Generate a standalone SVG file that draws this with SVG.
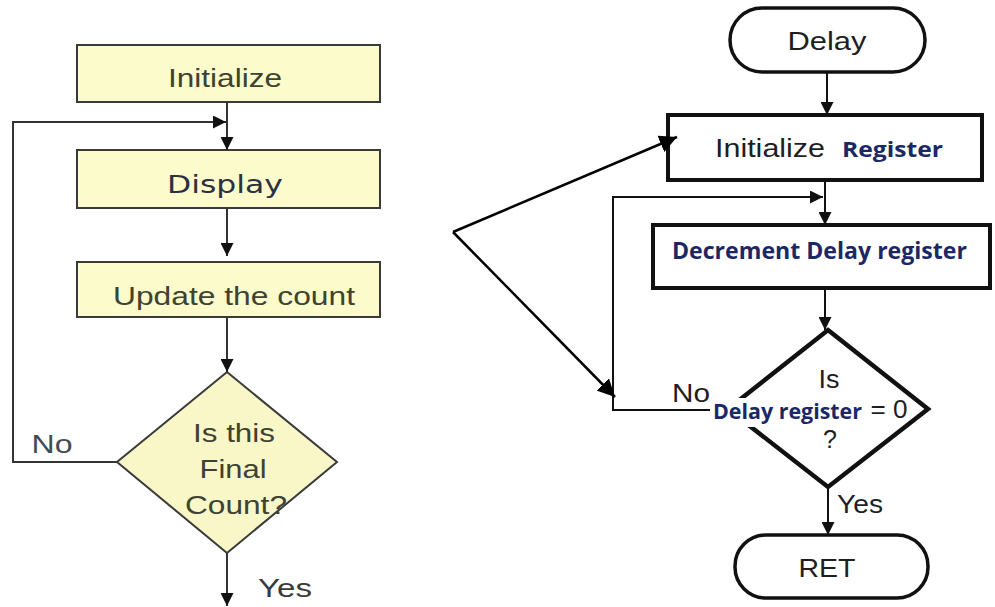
<svg xmlns="http://www.w3.org/2000/svg" width="995" height="607" viewBox="0 0 995 607">
  <style>
    .ybox { fill: #fbfbcb; stroke: #3a3a3a; stroke-width: 2; }
    .ytxt { font-family: "Liberation Sans", Arial, sans-serif; font-size: 25px; fill: #3d4232; text-anchor: middle; }
    .wbox { fill: #ffffff; stroke: #111111; stroke-width: 4; }
    .btxt { font-family: "Liberation Sans", Arial, sans-serif; font-size: 25px; fill: #1e1e1e; text-anchor: middle; }
    .ntxt { font-family: "Open Sans", "Noto Sans", sans-serif; font-weight: bold; fill: #1c2866; }
    .lc { fill: none; stroke: #333333; stroke-width: 2; }
    .rc { fill: none; stroke: #111111; stroke-width: 2; }
    .pc { fill: none; stroke: #000000; stroke-width: 2.5; }
  </style>
  <defs>
    <marker id="ah" viewBox="0 0 10 10" refX="10" refY="5" markerWidth="6.5" markerHeight="6.5" markerUnits="strokeWidth" orient="auto">
      <path d="M0,0 L10,5 L0,10 Z" fill="#111111"/>
    </marker>
    <marker id="ahp" viewBox="0 0 10 10" refX="10" refY="5" markerWidth="7" markerHeight="7" markerUnits="strokeWidth" orient="auto">
      <path d="M0,0 L10,5 L0,10 Z" fill="#000000"/>
    </marker>
  </defs>

  <rect x="0" y="0" width="995" height="607" fill="#ffffff"/>

  <!-- Left flowchart: counter -->
  <g id="l-init">
    <rect class="ybox" x="77" y="45" width="303" height="57"/>
    <text class="ytxt" x="225" y="87" textLength="114" lengthAdjust="spacingAndGlyphs">Initialize</text>
  </g>
  <g id="l-display">
    <rect class="ybox" x="77" y="150" width="303" height="58"/>
    <text class="ytxt" x="225" y="193" style="font-family:'DejaVu Sans',Verdana,sans-serif;fill:#2c3040" textLength="116" lengthAdjust="spacingAndGlyphs">Display</text>
  </g>
  <g id="l-update">
    <rect class="ybox" x="77" y="262" width="303" height="55"/>
    <text class="ytxt" x="234" y="305" textLength="242" lengthAdjust="spacingAndGlyphs">Update the count</text>
  </g>
  <g id="l-final">
    <path class="ybox" d="M227,372 L337,462 L227,553 L117,462 Z" style="fill:#f9f6c8"/>
    <text class="ytxt" x="234" y="442" textLength="82" lengthAdjust="spacingAndGlyphs">Is this</text>
    <text class="ytxt" x="233" y="478" textLength="67" lengthAdjust="spacingAndGlyphs">Final</text>
    <text class="ytxt" x="236" y="514" textLength="102" lengthAdjust="spacingAndGlyphs">Count?</text>
  </g>

  <g id="l-connectors">
    <path class="lc" d="M227,102 V150" marker-end="url(#ah)"/>
    <path class="lc" d="M227,208 V256" marker-end="url(#ah)"/>
    <path class="lc" d="M227,317 V372" marker-end="url(#ah)"/>
    <path class="lc" d="M117,462 H13 V122 H226" marker-end="url(#ah)"/>
    <path class="lc" d="M227,553 V606" marker-end="url(#ah)"/>
    <text class="ytxt" x="52" y="453" textLength="41" lengthAdjust="spacingAndGlyphs" style="fill:#444a55">No</text>
    <text class="ytxt" x="285" y="597" textLength="54" lengthAdjust="spacingAndGlyphs" style="fill:#3a3a3a">Yes</text>
  </g>

  <!-- Right flowchart: delay routine -->
  <g id="r-delay">
    <rect class="wbox" x="730" y="8" width="195" height="64" rx="32" ry="32" style="stroke-width:3.5"/>
    <text class="btxt" x="827" y="50" font-size="26" textLength="79" lengthAdjust="spacingAndGlyphs">Delay</text>
  </g>
  <g id="r-init">
    <rect class="wbox" x="668" y="115" width="314" height="65"/>
    <text class="btxt" x="770" y="157" textLength="110" lengthAdjust="spacingAndGlyphs">Initialize</text>
    <text class="ntxt" x="842" y="157" font-size="22" textLength="101" lengthAdjust="spacingAndGlyphs">Register</text>
  </g>
  <g id="r-dec">
    <rect class="wbox" x="653" y="225" width="337" height="63"/>
    <text class="ntxt" x="672" y="259" font-size="23" textLength="295" lengthAdjust="spacingAndGlyphs">Decrement Delay register</text>
  </g>
  <g id="r-test">
    <path class="wbox" d="M828,330 L928,409 L828,487 L728,409 Z" style="stroke-width:4.5"/>
    <rect x="708" y="398" width="158" height="29" fill="#ffffff"/>
    <text class="btxt" x="829" y="388" font-size="22" textLength="21" lengthAdjust="spacingAndGlyphs">Is</text>
    <text class="ntxt" x="713" y="419" font-size="21" textLength="149" lengthAdjust="spacingAndGlyphs">Delay register</text>
    <text class="btxt" x="889" y="418" font-size="25" textLength="37" lengthAdjust="spacingAndGlyphs">= 0</text>
    <text class="btxt" x="830" y="448" font-size="22">?</text>
  </g>
  <g id="r-ret">
    <rect class="wbox" x="735" y="535" width="193" height="63" rx="31" ry="31" style="stroke-width:3.5"/>
    <text class="btxt" x="827" y="577" font-size="27" textLength="57" lengthAdjust="spacingAndGlyphs">RET</text>
  </g>

  <g id="r-connectors">
    <path class="rc" d="M827,72 V115" marker-end="url(#ah)"/>
    <path class="rc" d="M825,180 V225" marker-end="url(#ah)"/>
    <path class="rc" d="M825,288 V330" marker-end="url(#ah)"/>
    <path class="rc" d="M710,410 H613 V197 H823" marker-end="url(#ah)"/>
    <path class="rc" d="M828,487 V535" marker-end="url(#ah)"/>
    <text class="btxt" x="691" y="402" font-size="23" textLength="38" lengthAdjust="spacingAndGlyphs">No</text>
    <text class="btxt" x="860" y="513" font-size="24" textLength="46" lengthAdjust="spacingAndGlyphs">Yes</text>
  </g>

  <g id="pointers">
    <path class="pc" d="M453,232 L677,137" marker-end="url(#ahp)"/>
    <path class="pc" d="M453,232 L615,397" marker-end="url(#ahp)"/>
  </g>
</svg>
